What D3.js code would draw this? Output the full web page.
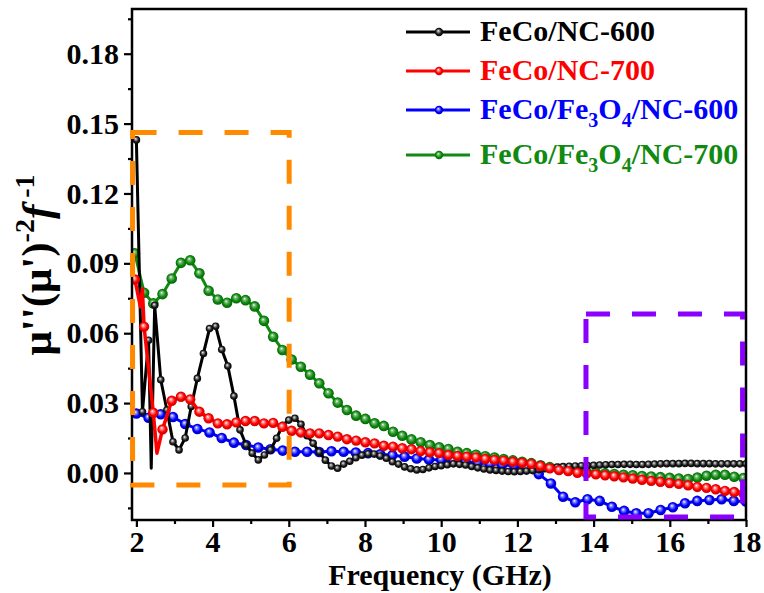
<!DOCTYPE html>
<html>
<head>
<meta charset="utf-8">
<script src="https://cdn.jsdelivr.net/npm/d3@7"></script>
<style>
body { margin: 0; background: #fff; }
svg text { font-family: "Liberation Serif", "Times New Roman", serif; font-weight: bold; }
</style>
</head>
<body>
<div id="chart"></div>
<script>

// ---- data ----
// each sample set was taken on its own regular frequency grid (GHz)
const blackStart = 2.0, blackStep = 0.16;
const blackVals = [0.143, 0.0263, 0.057, 0.072, 0.040, 0.027, 0.0134, 0.0099, 0.015, 0.0285,
    0.0406, 0.0513, 0.062, 0.063, 0.053, 0.0459, 0.033, 0.0185, 0.012, 0.0085,
    0.0056, 0.0077, 0.0099, 0.0149, 0.0205, 0.0227, 0.0235, 0.0209, 0.016, 0.0127,
    0.009, 0.0055, 0.003, 0.002, 0.0038, 0.005, 0.0065, 0.0076, 0.0082, 0.0081,
    0.0073, 0.0063, 0.0048, 0.0038, 0.0026, 0.0018, 0.0013, 0.0015, 0.0022, 0.0028,
    0.0031, 0.0035, 0.0039, 0.0037, 0.0034, 0.0028, 0.0022, 0.0017, 0.0013, 0.0011,
    0.0008, 0.0006, 0.0005, 0.0006, 0.0008, 0.001, 0.0014, 0.0018, 0.0022, 0.0025,
    0.0027, 0.0029, 0.003, 0.0031, 0.0032, 0.0033, 0.0034, 0.0035, 0.0036, 0.0036,
    0.0037, 0.0037, 0.0036, 0.0036, 0.0037, 0.0038, 0.0039, 0.004, 0.004, 0.004,
    0.0041, 0.0041, 0.004, 0.004, 0.004, 0.0039, 0.0039, 0.0039, 0.0039, 0.0039, 0.0039];
// line-only vertices (no marker) of the sharp spikes
const blackExtraF = [2.39];
const blackExtraV = [0.002];

const redStart = 1.96, redStep = 0.242;
const redVals = [0.0831, 0.0628, 0.0259, 0.0187, 0.031, 0.0327, 0.0316, 0.0263, 0.0235, 0.0213,
    0.0209, 0.0217, 0.0223, 0.0223, 0.0213, 0.0215, 0.0198, 0.0181, 0.0174, 0.017,
    0.017, 0.0163, 0.0156, 0.0145, 0.0139, 0.0132, 0.0127, 0.0117, 0.0113, 0.0106,
    0.0102, 0.0094, 0.0089, 0.0085, 0.0077, 0.0073, 0.007, 0.0067, 0.006, 0.0056,
    0.0053, 0.0048, 0.0044, 0.0039, 0.003, 0.002, 0.0012, 0.0008, 0.0001, -0.0002,
    -0.0006, -0.001, -0.0014, -0.0019, -0.0024, -0.0029, -0.0034, -0.0038, -0.0043, -0.0047,
    -0.0053, -0.006, -0.0064, -0.007, -0.0077, -0.0082, -0.0088];
const redExtraF = [2.105, 2.158, 2.54];
const redExtraV = [0.0713, 0.079, 0.0085];

const blueStart = 2.0, blueStep = 0.32;
const blueVals = [0.0255, 0.0237, 0.0252, 0.024, 0.021, 0.0189, 0.0174, 0.015, 0.013, 0.012,
    0.0109, 0.0102, 0.0096, 0.0091, 0.0091, 0.009, 0.0093, 0.0091, 0.0088, 0.0085,
    0.008, 0.0076, 0.007, 0.0062, 0.0058, 0.0056, 0.0052, 0.0048, 0.0044, 0.0039,
    0.0035, 0.0031, 0.0022, -0.0005, -0.0045, -0.0102, -0.0126, -0.0113, -0.012, -0.0145,
    -0.0163, -0.0173, -0.0173, -0.0159, -0.0147, -0.013, -0.012, -0.0116, -0.0113, -0.012, -0.0123];

const greenStart = 1.96, greenStep = 0.242;
const greenVals = [0.0943, 0.0774, 0.0728, 0.0768, 0.0835, 0.0902, 0.0913, 0.0857, 0.0782, 0.0745,
    0.0731, 0.075, 0.0742, 0.0715, 0.0653, 0.0585, 0.0528, 0.0487, 0.0456, 0.0422,
    0.0385, 0.0342, 0.0302, 0.027, 0.0246, 0.0232, 0.0213, 0.0202, 0.0177, 0.016,
    0.0144, 0.0132, 0.012, 0.011, 0.0103, 0.0091, 0.0085, 0.0078, 0.0072, 0.0066,
    0.006, 0.0054, 0.0048, 0.0042, 0.0033, 0.0025, 0.0018, 0.0012, 0.0008, 0.0004,
    0.0001, -0.0002, -0.0005, -0.0008, -0.001, -0.0013, -0.0015, -0.0018, -0.0021, -0.0024,
    -0.0026, -0.002, -0.0012, -0.0008, -0.0008, -0.0016, -0.0022];

const seriesNames = ["FeCo/NC-600", "FeCo/NC-700", "FeCo/Fe_3O_4/NC-600", "FeCo/Fe_3O_4/NC-700"];
const xTickValues = [2, 4, 6, 8, 10, 12, 14, 16, 18];
const yTickValues = [0, 0.03, 0.06, 0.09, 0.12, 0.15, 0.18];

// highlighted regions [x0, x1, y0, y1]
const orangeBox = [1.9, 6.01, -0.0052, 0.1462];
const purpleBox = [13.8, 17.91, -0.0189, 0.0682];

// ---- chart ----
let margin = {top: 9, right: 18, bottom: 73, left: 132};
let width = 764 - margin.left - margin.right;
let height = 593 - margin.top - margin.bottom;

let svg = d3.select("#chart").append("svg")
    .attr("width", 764)
    .attr("height", 593);

let g = svg.append("g")
    .attr("transform", "translate(" + margin.left + "," + margin.top + ")");

let x = d3.scaleLinear().domain([1.885, 18]).range([0, width]);
let y = d3.scaleLinear().domain([-0.0202, 0.1992]).range([height, 0]);

// sphere-like marker fills
let defs = svg.append("defs");
function sphere(id, light, base, dark) {
    let grad = defs.append("radialGradient")
        .attr("id", id)
        .attr("cx", "50%").attr("cy", "50%").attr("r", "55%")
        .attr("fx", "40%").attr("fy", "35%");
    grad.append("stop").attr("offset", "0%").attr("stop-color", "#ffffff");
    grad.append("stop").attr("offset", "22%").attr("stop-color", light);
    grad.append("stop").attr("offset", "60%").attr("stop-color", base);
    grad.append("stop").attr("offset", "100%").attr("stop-color", dark);
}
sphere("gBlack", "#9a9a9a", "#1a1a1a", "#000000");
sphere("gRed", "#ff9090", "#ff0000", "#c00000");
sphere("gBlue", "#9090ff", "#0000ff", "#0000b0");
sphere("gGreen", "#80c080", "#108a10", "#005c00");

defs.append("clipPath").attr("id", "plotClip")
    .append("rect").attr("width", width).attr("height", height);

function makeSeries(start, step, vals, extraF, extraV) {
    let marks = vals.map((v, i) => ({f: start + step * i, v: v}));
    let extras = extraF.map((f, i) => ({f: f, v: extraV[i]}));
    let path = marks.concat(extras).sort((a, b) => a.f - b.f);
    return {marks: marks, path: path};
}

let series = [
    {name: seriesNames[3], color: "#108a10", fill: "url(#gGreen)", r: 5.3, lw: 3, s: makeSeries(greenStart, greenStep, greenVals, [], [])},
    {name: seriesNames[2], color: "#0000ff", fill: "url(#gBlue)", r: 5.3, lw: 3, s: makeSeries(blueStart, blueStep, blueVals, [], [])},
    {name: seriesNames[0], color: "#000000", fill: "url(#gBlack)", r: 3.8, lw: 3, s: makeSeries(blackStart, blackStep, blackVals, blackExtraF, blackExtraV)},
    {name: seriesNames[1], color: "#ff0000", fill: "url(#gRed)", r: 5.2, lw: 3.5, s: makeSeries(redStart, redStep, redVals, redExtraF, redExtraV)}
];

let line = d3.line()
    .x(d => x(d.f))
    .y(d => y(d.v));

let plot = g.append("g").attr("clip-path", "url(#plotClip)");

series.forEach(function (sr) {
    plot.append("path")
        .datum(sr.s.path)
        .attr("d", line)
        .attr("fill", "none")
        .attr("stroke", sr.color)
        .attr("stroke-width", sr.lw)
        .attr("stroke-linejoin", "round");

    plot.append("g").selectAll("circle")
        .data(sr.s.marks)
        .enter()
        .append("circle")
        .attr("cx", d => x(d.f))
        .attr("cy", d => y(d.v))
        .attr("r", sr.r)
        .attr("fill", sr.fill);
});

// axes
let yAxis = d3.axisLeft(y).tickValues(yTickValues).tickSize(8).tickPadding(5).tickFormat(d3.format(".2f"));
let yMinor = d3.axisLeft(y).tickValues(d3.range(-0.015, 0.2, 0.03)).tickSize(4).tickFormat("");
let xAxis = d3.axisBottom(x).tickValues(xTickValues).tickSize(7).tickPadding(4).tickFormat(d3.format("d"));
let xMinor = d3.axisBottom(x).tickValues([3, 5, 7, 9, 11, 13, 15, 17]).tickSize(4).tickFormat("");

function styleAxis(sel) {
    sel.select(".domain").remove();
    sel.selectAll(".tick line").attr("stroke", "#000").attr("stroke-width", 2.2);
    sel.selectAll(".tick text").attr("fill", "#000").style("font-size", "30px");
}

g.append("g").attr("class", "y-axis axis").call(yAxis).call(styleAxis);
g.append("g").attr("class", "y-axis axis").call(yMinor).call(styleAxis);
g.append("g").attr("class", "x-axis axis")
    .attr("transform", "translate(0," + height + ")")
    .call(xAxis).call(styleAxis);
g.append("g").attr("class", "x-axis axis")
    .attr("transform", "translate(0," + height + ")")
    .call(xMinor).call(styleAxis);

// frame
g.append("rect")
    .attr("width", width)
    .attr("height", height)
    .attr("fill", "none")
    .attr("stroke", "#000")
    .attr("stroke-width", 2.5);

// dashed highlight boxes
function drawBox(b, color) {
    let p = d3.path();
    p.moveTo(x(b[0]), y(b[3]));
    p.lineTo(x(b[1]), y(b[3]));
    p.lineTo(x(b[1]), y(b[2]));
    p.lineTo(x(b[0]), y(b[2]));
    p.closePath();
    g.append("path")
        .attr("d", p.toString())
        .attr("fill", "none")
        .attr("stroke", color)
        .attr("stroke-width", 5)
        .attr("stroke-dasharray", "24,22");
}
drawBox(orangeBox, "#ff8a00");
drawBox(purpleBox, "#8a00ff");

// legend
let legendOrder = [2, 3, 1, 0];
let legendY = [41, 80, 119, 164];
let legend = svg.append("g");
legendOrder.forEach(function (k, row) {
    let sr = series[k];
    let ly = legendY[row] - 9;
    legend.append("line")
        .attr("x1", 406).attr("x2", 470)
        .attr("y1", ly).attr("y2", ly)
        .attr("stroke", sr.color).attr("stroke-width", 3);
    legend.append("circle")
        .attr("cx", 439).attr("cy", ly).attr("r", 4.2)
        .attr("fill", sr.fill);
    let t = legend.append("text")
        .attr("x", 480).attr("y", legendY[row])
        .attr("fill", sr.color)
        .style("font-size", "30px");
    sr.name.split(/_(\d)/).forEach(function (part, j) {
        if (j % 2 === 1) {
            t.append("tspan").attr("dy", 8).style("font-size", "20px").text(part);
        } else if (part.length) {
            t.append("tspan").attr("dy", j > 0 ? -8 : 0).text(part);
        }
    });
});

// axis titles
svg.append("text")
    .attr("x", 440).attr("y", 585)
    .attr("text-anchor", "middle")
    .style("font-size", "30px")
    .text("Frequency (GHz)");

let yt = svg.append("text")
    .attr("transform", "translate(51,265) rotate(-90)")
    .attr("text-anchor", "middle")
    .style("font-size", "43px");
yt.append("tspan").text("\u03bc''(\u03bc')");
yt.append("tspan").attr("dy", -17).style("font-size", "28px").text("-2");
yt.append("tspan").attr("dy", 17).style("font-style", "italic").text("f");
yt.append("tspan").attr("dy", -17).style("font-size", "28px").text("\u00a0-1");

</script>
</body>
</html>
